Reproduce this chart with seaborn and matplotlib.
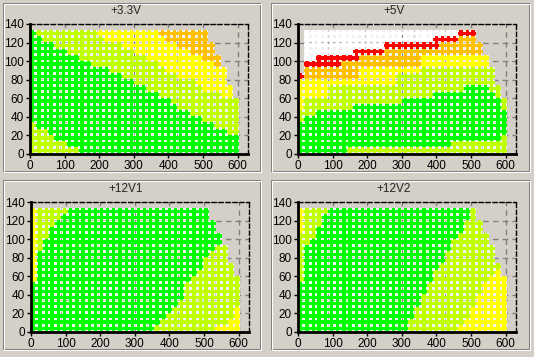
import numpy as np
import pandas as pd
import seaborn as sns
import matplotlib.pyplot as plt
from matplotlib.patches import Rectangle

# Load grid of the crossload test (x = combined load, y = 12V load)
x_loads = [8, 26, 44, 61, 79, 97, 115, 133, 150, 168, 186, 204, 222, 239, 257, 275, 293,
           311, 328, 346, 364, 382, 400, 417, 435, 453, 471, 489, 506, 524, 542, 560, 578, 595]
y_loads = [130, 123.4, 116.7, 110.1, 103.5, 96.8, 90.2, 83.6, 77.0, 70.3,
           63.7, 57.1, 50.4, 43.8, 37.2, 30.5, 23.9, 17.3, 10.7, 4.0]
# number of tested points in each row (top row first)
row_extent = [29, 29, 30, 30, 31, 31, 32, 32, 32, 33, 33, 34, 34, 34, 34, 34, 34, 34, 34, 34]

level_colors = {'g': '#00ff00', 'yg': '#c0ff00', 'y': '#ffff00',
                'o': '#ffc000', 'r': '#ff0000', 'w': '#ffffff'}

# colour bands from left to right in each row, and the column where each band ends
rail_33_order = ['yg', 'g', 'yg', 'y', 'o']
rail_33_edges = [
    [0, 1, 11, 21], [0, 2, 12, 22], [0, 4, 15, 24], [0, 6, 17, 26], [0, 8, 19, 28],
    [0, 10, 21, 30], [0, 13, 22, 32], [0, 15, 24, 32], [0, 17, 27, 32], [0, 19, 28, 33],
    [0, 21, 31, 33], [0, 23, 34, 34], [0, 24, 34, 34], [0, 26, 34, 34], [0, 28, 34, 34],
    [1, 30, 34, 34], [3, 32, 34, 34], [4, 34, 34, 34], [6, 34, 34, 34], [8, 34, 34, 34],
]

rail_5_order = [None, 'w', 'r', 'o', 'y', 'yg', 'g', 'yg']
rail_5_edges = [
    [1, 26, 29, 29, 29, 29, 29], [1, 22, 26, 29, 29, 29, 29], [1, 14, 23, 30, 30, 30, 30],
    [1, 9, 14, 30, 30, 30, 30], [1, 3, 10, 20, 31, 31, 31], [1, 1, 7, 20, 31, 31, 31],
    [1, 1, 1, 10, 20, 32, 32], [0, 0, 1, 10, 16, 32, 32], [0, 0, 0, 0, 16, 32, 32],
    [0, 0, 0, 0, 5, 27, 31], [0, 0, 0, 0, 5, 22, 32], [0, 0, 0, 0, 1, 17, 33],
    [0, 0, 0, 0, 1, 9, 33], [0, 0, 0, 0, 0, 3, 34], [0, 0, 0, 0, 0, 1, 34],
    [0, 0, 0, 0, 0, 0, 34], [0, 0, 0, 0, 0, 0, 34], [0, 0, 0, 0, 0, 0, 33],
    [0, 0, 0, 0, 0, 0, 25], [0, 0, 0, 0, 0, 0, 8],
]

rail_12v1_order = ['y', 'yg', 'g', 'yg', 'y']
rail_12v1_edges = [
    [1, 6, 29, 29], [1, 5, 29, 29], [1, 4, 30, 30], [1, 3, 30, 30], [1, 3, 31, 31],
    [1, 2, 31, 31], [1, 2, 30, 32], [1, 1, 29, 32], [1, 1, 28, 32], [1, 1, 28, 33],
    [1, 1, 27, 33], [1, 1, 26, 34], [0, 0, 25, 34], [0, 0, 25, 34], [0, 0, 25, 34],
    [0, 0, 24, 34], [0, 0, 23, 33], [0, 0, 22, 33], [0, 0, 21, 32], [0, 0, 20, 30],
]

rail_12v2_order = ['y', 'yg', 'g', 'yg', 'y']
rail_12v2_edges = [
    [1, 5, 28, 29], [1, 4, 28, 29], [1, 4, 27, 30], [1, 3, 27, 30], [0, 3, 26, 31],
    [0, 2, 25, 31], [0, 1, 25, 32], [0, 1, 24, 32], [0, 1, 24, 32], [0, 1, 23, 33],
    [0, 1, 22, 32], [0, 1, 22, 31], [0, 0, 21, 30], [0, 0, 21, 30], [0, 0, 20, 29],
    [0, 0, 20, 29], [0, 0, 19, 28], [0, 0, 19, 28], [0, 0, 18, 27], [0, 0, 18, 26],
]


def build_frame(order, edges):
    rows = []
    for r, y in enumerate(y_loads):
        for c in range(row_extent[r]):
            seg = 0
            while seg < len(edges[r]) and c >= edges[r][seg]:
                seg += 1
            if order[seg] is None:
                continue
            rows.append({'x': x_loads[c], 'y': y, 'level': order[seg]})
    return pd.DataFrame(rows)


panels = [
    ('+3.3V', rail_33_order, rail_33_edges, (30, 24, 248, 154), (126, 11.5), (3, 3, 260, 171)),
    ('+5V', rail_5_order, rail_5_edges, (298, 24, 516, 154), (394, 11.5), (271, 3, 529, 171)),
    ('+12V1', rail_12v1_order, rail_12v1_edges, (31, 202, 249, 332), (126, 189.5), (3, 180, 260, 349)),
    ('+12V2', rail_12v2_order, rail_12v2_edges, (298, 202, 516, 332), (394, 189.5), (271, 180, 529, 349)),
]

# thick "plus" marker like the original tool draws
plus_marker = [(-0.25, -0.5), (0.25, -0.5), (0.25, -0.25), (0.5, -0.25), (0.5, 0.25), (0.25, 0.25),
               (0.25, 0.5), (-0.25, 0.5), (-0.25, 0.25), (-0.5, 0.25), (-0.5, -0.25), (-0.25, -0.25)]

bg = '#d4d0c8'
sns.set_style('white')
plt.rcParams['font.family'] = ['Liberation Sans', 'DejaVu Sans']

W, H = 534, 357
fig = plt.figure(figsize=(W / 100, H / 100), dpi=100, facecolor=bg)

for title, order, edges, (l, t, r, b), (tx, ty), (bl, bt, br, bb) in panels:
    # etched panel frame
    fig.patches.append(Rectangle((bl / W, 1 - bb / H), (br - bl) / W, (bb - bt) / H,
                                 transform=fig.transFigure, fill=False, edgecolor='#808080', lw=0.75))
    fig.patches.append(Rectangle(((bl + 1) / W, 1 - (bb + 1) / H), (br - bl) / W, (bb - bt) / H,
                                 transform=fig.transFigure, fill=False, edgecolor='white', lw=0.75))
    fig.text(tx / W, 1 - ty / H, title, ha='center', va='center', fontsize=8.5)

    ax = fig.add_axes([l / W, 1 - b / H, (r - l) / W, (b - t) / H])
    ax.set_facecolor(bg)
    df = build_frame(order, edges)
    # light cells under the markers, then the coloured plus signs
    sns.scatterplot(data=df, x='x', y='y', color='#f2f2f2', marker='s', s=18,
                    linewidth=0, legend=False, ax=ax, zorder=2)
    sns.scatterplot(data=df, x='x', y='y', hue='level', palette=level_colors, marker=plus_marker,
                    s=22, linewidth=0, legend=False, ax=ax, zorder=3)

    ax.set_xlim(0, 630)
    ax.set_ylim(0, 140)
    ax.set_xticks(range(0, 601, 100))
    ax.set_yticks(range(0, 141, 20))
    ax.set_xlabel('')
    ax.set_ylabel('')
    ax.grid(True, color='#808080', linestyle=(0, (4, 3)), linewidth=1)
    ax.set_axisbelow(True)
    ax.tick_params(direction='out', length=3, width=1, labelsize=8.5, pad=1.5,
                   bottom=True, left=True, colors='black')
    for side in ['left', 'bottom']:
        ax.spines[side].set_linewidth(2)
        ax.spines[side].set_color('black')
        ax.spines[side].set_zorder(5)
    for side in ['top', 'right']:
        ax.spines[side].set_linewidth(1)
        ax.spines[side].set_color('black')
        ax.spines[side].set_linestyle((0, (3, 2)))

fig.savefig('out.png', dpi=100, facecolor=bg)
